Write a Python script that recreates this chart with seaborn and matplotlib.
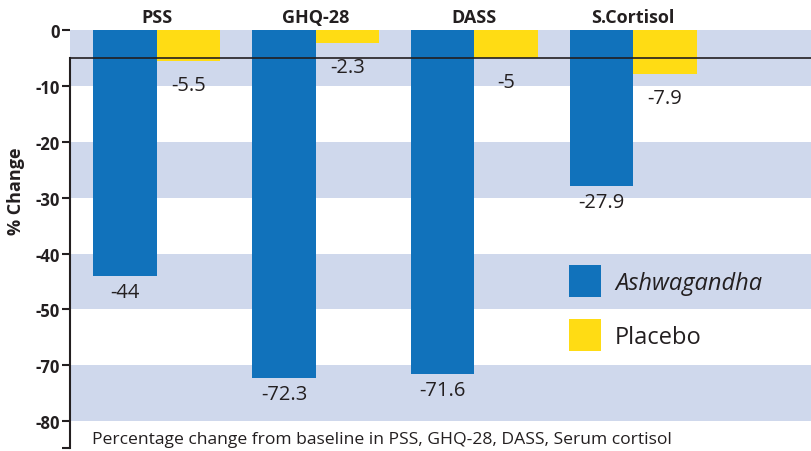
import numpy as np
import pandas as pd
import matplotlib
matplotlib.use("Agg")
import matplotlib.pyplot as plt
import seaborn as sns
from matplotlib.patches import Patch
from matplotlib.ticker import FixedLocator, NullFormatter

# ---- data ----
categories = ["PSS", "GHQ-28", "DASS", "S.Cortisol"]
groups = ["Ashwagandha", "Placebo"]
ashwagandha = [-44, -72.3, -71.6, -27.9]
placebo = [-5.5, -2.3, -5, -7.9]
y_ticks = [0, -10, -20, -30, -40, -50, -70, -80]
band_ranges = [(-10, 0), (-30, -20), (-50, -40), (-80, -70)]
caption = "Percentage change from baseline in PSS, GHQ-28, DASS, Serum cortisol"
ylabel = "% Change"

df = pd.DataFrame({
    "Measure": categories * 2,
    "Group": [groups[0]] * len(categories) + [groups[1]] * len(categories),
    "Change": ashwagandha + placebo,
})

BLUE = "#1172bb"
YELLOW = "#ffdc14"
BAND = "#cfd8ec"
TXT = "#231f20"

sns.set_style("white")
plt.rcParams["font.family"] = ["Open Sans", "DejaVu Sans"]


# axis with a break: -50..-70 compressed into one band
def fwd(y):
    y = np.asarray(y, dtype=float)
    return np.where(y >= -50, y, np.where(y >= -70, -50 + (y + 50) * 0.5, y + 10))


def inv(p):
    p = np.asarray(p, dtype=float)
    return np.where(p >= -50, p, np.where(p >= -60, -50 + (p + 50) * 2, p - 10))


fig = plt.figure(figsize=(8.12, 4.52), dpi=100)
ax = fig.add_axes([70 / 812, 1 - 449 / 452, 1 - 70 / 812, (449 - 31) / 452])

sns.barplot(data=df, x="Measure", y="Change", hue="Group", order=categories,
            hue_order=groups, palette=[BLUE, YELLOW], saturation=1, width=0.8,
            errorbar=None, legend=False, linewidth=0, zorder=2, ax=ax)

ax.set_yscale("function", functions=(fwd, inv))
ybottom = -84.8
ax.set_ylim(ybottom, 0)
ax.set_xlim(-0.548, 4.127)

for lo, hi in band_ranges:
    ax.axhspan(lo, hi, color=BAND, lw=0, zorder=0)

ax.axhline(-5, color=TXT, lw=1.2, zorder=5)

# value labels
pads = [4.5, 10]
for cont, pad in zip(ax.containers, pads):
    ax.bar_label(cont, fmt="%g", padding=pad, fontsize=14.5, color=TXT)

# y axis
ax.yaxis.set_major_locator(FixedLocator(y_ticks))
ax.set_yticklabels([str(t) for t in y_ticks])
ax.yaxis.set_minor_locator(FixedLocator([ybottom]))
ax.yaxis.set_minor_formatter(NullFormatter())
ax.tick_params(axis="y", which="both", direction="out", length=5.8, width=1.5,
               color=TXT, pad=1.5, labelsize=12, labelcolor=TXT, left=True)
for t in ax.get_yticklabels():
    t.set_fontweight("bold")

# x axis on top
ax.xaxis.tick_top()
ax.set_xticks(range(len(categories)))
ax.set_xticklabels(categories, fontweight="bold", fontsize=13, color=TXT)
ax.tick_params(axis="x", length=0, pad=3)
ax.set_xlabel("")
ax.set_ylabel("")

for s in ["top", "right", "bottom"]:
    ax.spines[s].set_visible(False)
ax.spines["left"].set_color(TXT)
ax.spines["left"].set_linewidth(1.5)
ax.spines["left"].set_bounds(ybottom, -5)

# legend
handles = [Patch(facecolor=BLUE, lw=0), Patch(facecolor=YELLOW, lw=0)]
leg = ax.legend(handles, groups, loc="upper left",
                bbox_to_anchor=(569 / 812, 1 - 266 / 452),
                bbox_transform=fig.transFigure, frameon=False, fontsize=17,
                handlelength=1.35, handleheight=1.71, handletextpad=0.6,
                labelspacing=0.95, borderpad=0, borderaxespad=0)
for t in leg.get_texts():
    t.set_color(TXT)
leg.get_texts()[0].set_style("italic")

fig.text(16 / 812, 1 - 191 / 452, ylabel, rotation=90, ha="center", va="center",
         fontweight="bold", fontsize=13, color=TXT)
fig.text(92 / 812, 1 - 440 / 452, caption, ha="left", va="center",
         fontsize=12.6, color=TXT)

fig.savefig("out.png", dpi=100)
